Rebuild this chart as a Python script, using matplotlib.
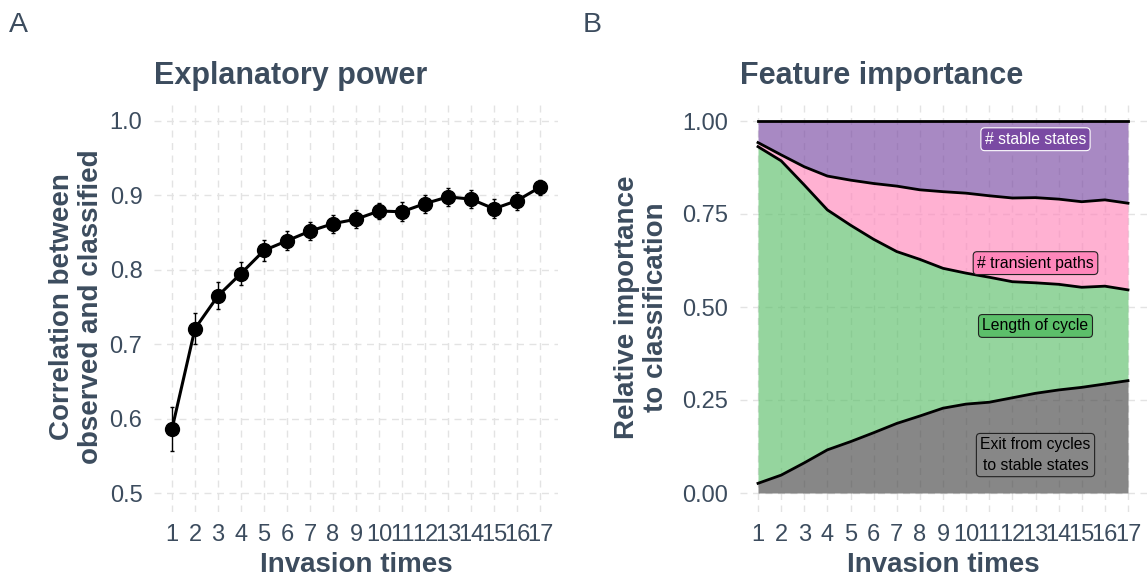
import matplotlib
matplotlib.use("Agg")
import matplotlib.pyplot as plt
import numpy as np

plt.rcParams['font.family'] = ['Liberation Sans', 'DejaVu Sans']

# panel A: explanatory power
invasion = np.arange(1, 18)
corr = [0.586, 0.721, 0.765, 0.795, 0.826, 0.839, 0.852, 0.862, 0.868,
        0.879, 0.878, 0.889, 0.898, 0.895, 0.882, 0.893, 0.911]
corr_err = [0.029, 0.021, 0.018, 0.016, 0.014, 0.013, 0.012, 0.012, 0.012,
            0.011, 0.013, 0.012, 0.012, 0.012, 0.013, 0.012, 0.010]

# panel B: feature importance (stacked from bottom)
exit_cycles = [0.026, 0.048, 0.081, 0.116, 0.138, 0.162, 0.187, 0.207, 0.228,
               0.239, 0.244, 0.256, 0.268, 0.277, 0.284, 0.293, 0.302]
cycle_len = [0.905, 0.845, 0.747, 0.645, 0.582, 0.520, 0.462, 0.421, 0.376,
             0.352, 0.336, 0.312, 0.297, 0.284, 0.269, 0.263, 0.244]
transient = [0.011, 0.016, 0.049, 0.091, 0.121, 0.150, 0.176, 0.187, 0.206,
             0.215, 0.219, 0.225, 0.229, 0.229, 0.230, 0.232, 0.233]
stable = [0.058, 0.091, 0.123, 0.148, 0.159, 0.168, 0.175, 0.185, 0.190,
          0.194, 0.201, 0.207, 0.206, 0.210, 0.217, 0.212, 0.221]

names = ["Exit from cycles\nto stable states", "Length of cycle",
         "# transient paths", "# stable states"]
fills = ["#474747", "#5cbf6a", "#ff87bb", "#7a4aa3"]
label_y = [0.102, 0.449, 0.618, 0.951]

txt = "#3C4C5E"
W, H = 1147, 579
fig = plt.figure(figsize=(W / 100, H / 100), dpi=100)


def px_axes(l, r, t, b):
    return fig.add_axes([l / W, 1 - b / H, (r - l) / W, (b - t) / H])


def style(ax):
    for s in ax.spines.values():
        s.set_visible(False)
    ax.grid(True, color="#e3e3e3", linestyle=(0, (5, 4)), linewidth=1.0)
    ax.set_axisbelow(True)
    ax.tick_params(length=0, labelsize=17, labelcolor=txt)
    ax.tick_params(axis='x', pad=9)
    ax.tick_params(axis='y', pad=8)
    ax.set_xticks(invasion)
    ax.set_xlim(0.2, 17.8)


def labels(ax, title, ylab, ylab_x):
    ax.set_title(title, loc="left", fontsize=22, fontweight="bold",
                 color=txt, pad=13)
    ax.set_xlabel("Invasion times", fontsize=20, fontweight="bold", color=txt)
    ax.xaxis.label.set_va("center")
    ax.xaxis.set_label_coords(0.5, -0.13)
    ax.set_ylabel(ylab, fontsize=20, fontweight="bold", color=txt,
                  linespacing=1.15)
    ax.yaxis.label.set_va("center")
    ax.yaxis.set_label_coords(ylab_x, 0.5)


# ---- A
ax1 = px_axes(153.6, 558.4, 102.4, 511.6)
style(ax1)
ax1.set_ylim(0.475, 1.025)
ax1.set_yticks([0.5, 0.6, 0.7, 0.8, 0.9, 1.0])
ax1.errorbar(invasion, corr, yerr=corr_err, color="black", lw=2.2,
             marker="o", markersize=10, elinewidth=1.0, capsize=1.5,
             capthick=1.0, zorder=3)
labels(ax1, "Explanatory power", "Correlation between\nobserved and classified",
       -0.19)

# ---- B
ax2 = px_axes(739.5, 1146.5, 102.4, 511.6)
style(ax2)
ax2.set_ylim(-0.05, 1.05)
ax2.set_yticks([0, 0.25, 0.5, 0.75, 1.0])
ax2.set_yticklabels(["0.00", "0.25", "0.50", "0.75", "1.00"])
layers = [exit_cycles, cycle_len, transient, stable]
base = np.zeros(len(invasion))
for vals, col in zip(layers, fills):
    top = base + np.array(vals)
    ax2.fill_between(invasion, base, top, color=col, alpha=0.65, lw=0, zorder=2)
    ax2.plot(invasion, top, color="black", lw=2.0, zorder=3)
    base = top
for name, col, yy in zip(names, fills, label_y):
    fg = "white" if name.startswith("# stable") else "black"
    ec = "white" if name.startswith("# stable") else "#222222"
    fc = "#878787" if name.startswith("Exit") else col
    ax2.text(13, yy, name, ha="center", va="center", fontsize=11.3, color=fg,
             linespacing=1.45, zorder=4,
             bbox=dict(boxstyle="round,pad=0.25,rounding_size=0.25", fc=fc,
                       ec=ec, lw=0.8))
labels(ax2, "Feature importance", "Relative importance\nto classification",
       -0.24)

fig.text(9 / W, 1 - 25 / H, "A", fontsize=20.5, color=txt, va="center")
fig.text(583 / W, 1 - 25 / H, "B", fontsize=20.5, color=txt, va="center")

fig.savefig("out.png", dpi=100)
